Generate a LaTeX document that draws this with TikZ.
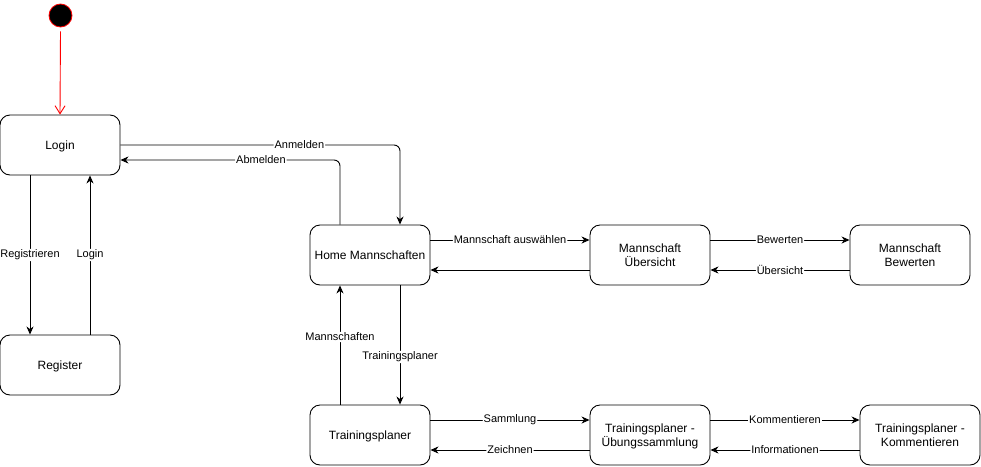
\documentclass[tikz,border=0pt]{standalone}
\usepackage{fontspec}
\setmainfont{Liberation Sans}
\usetikzlibrary{arrows.meta}
\begin{document}
\begin{tikzpicture}[x=1pt,y=-1pt,
  state/.style={draw,line width=0.9pt,rounded corners=10pt,minimum width=120pt,minimum height=60pt,
    align=center,font=\fontsize{12pt}{14pt}\selectfont,inner sep=2pt,text depth=0pt},
  flow/.style={draw,line width=0.9pt,rounded corners=6pt,-{Stealth[length=8pt,width=7pt,inset=2.5pt]}},
  lbl/.style={fill=white,inner sep=1pt,font=\fontsize{11pt}{13pt}\selectfont}]
\useasboundingbox (0,0) rectangle (981,466);
% initial state
\node[circle,fill=black,draw=red,line width=0.8pt,minimum size=23pt,inner sep=0pt] (start) at (60.5,15.5) {};
% states
\node[state] (login) at (60,145) {Login};
\node[state] (reg) at (60,365) {Register};
\node[state] (home) at (370,255) {Home Mannschaften};
\node[state] (mu) at (650,255) {Mannschaft\\Übersicht};
\node[state] (mb) at (910,255) {Mannschaft\\Bewerten};
\node[state] (tp) at (370,435) {Trainingsplaner};
\node[state] (tu) at (650,435) {Trainingsplaner -\\Übungssammlung};
\node[state] (tk) at (920,435) {Trainingsplaner -\\Kommentieren};
% transitions
\draw[red,line width=0.9pt,-{Straight Barb[length=8pt,width=10pt]}] ([yshift=-4pt]start.south) -- (login.north);
\draw[flow] (login.east) -| ([xshift=30pt]home.north)
  node[lbl,pos=0.32] {Anmelden};
\draw[flow] ([xshift=-30pt]home.north) |- ([yshift=-15pt]login.east)
  node[lbl,pos=0.68] {Abmelden};
\draw[flow] ([xshift=-30pt]login.south) -- ([xshift=-30pt]reg.north)
  node[lbl,pos=0.5] {Registrieren};
\draw[flow] ([xshift=30pt]reg.north) -- ([xshift=30pt]login.south)
  node[lbl,pos=0.5] {Login};
\draw[flow] ([yshift=15pt]home.east) -- ([yshift=15pt]mu.west)
  node[lbl,pos=0.5] {Mannschaft auswählen};
\draw[flow] ([yshift=-15pt]mu.west) -- ([yshift=-15pt]home.east);
\draw[flow] ([yshift=15pt]mu.east) -- ([yshift=15pt]mb.west)
  node[lbl,pos=0.5] {Bewerten};
\draw[flow] ([yshift=-15pt]mb.west) -- ([yshift=-15pt]mu.east)
  node[lbl,pos=0.5] {Übersicht};
\draw[flow] ([xshift=30pt]home.south) -- ([xshift=30pt]tp.north)
  node[lbl,pos=0.6] {Trainingsplaner};
\draw[flow] ([xshift=-30pt]tp.north) -- ([xshift=-30pt]home.south)
  node[lbl,pos=0.567] {Mannschaften};
\draw[flow] ([yshift=15pt]tp.east) -- ([yshift=15pt]tu.west)
  node[lbl,pos=0.5] {Sammlung};
\draw[flow] ([yshift=-15pt]tu.west) -- ([yshift=-15pt]tp.east)
  node[lbl,pos=0.5] {Zeichnen};
\draw[flow] ([yshift=15pt]tu.east) -- ([yshift=15pt]tk.west)
  node[lbl,pos=0.5] {Kommentieren};
\draw[flow] ([yshift=-15pt]tk.west) -- ([yshift=-15pt]tu.east)
  node[lbl,pos=0.5] {Informationen};
\end{tikzpicture}
\end{document}
